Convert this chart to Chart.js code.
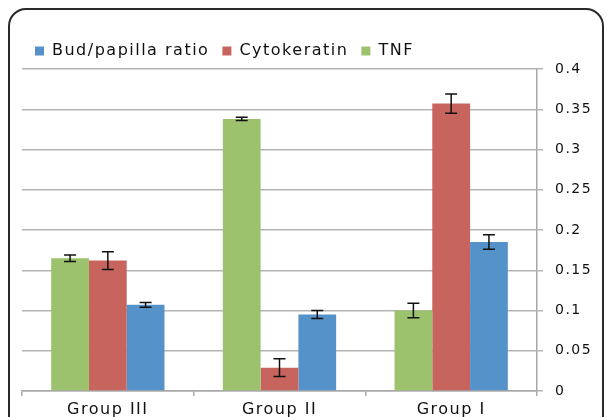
<!DOCTYPE html>
<html lang="en">
<head>
    <meta charset="UTF-8">
    <title>Group chart</title>
    <style>
        body {
            margin: 0;
            background: white;
            overflow: hidden;
        }

        .frame {
            position: absolute;
            left: 8px;
            top: 8px;
            width: 592px;
            height: 430px;
            border: 2px solid #2a2a2a;
            border-radius: 18px;
        }

        #wrap {
            position: absolute;
            left: 0;
            top: 0;
            width: 607px;
            height: 417px;
        }
    </style>
</head>
<body>
    <div class="frame"></div>
    <div id="wrap"><canvas id="chart" width="607" height="417"></canvas></div>

<script src="https://cdn.jsdelivr.net/npm/chart.js@4.4.1/dist/chart.umd.min.js"></script>
<script>
    var groups = ['Group III', 'Group II', 'Group I'];
    var yTicks = [0, 0.05, 0.1, 0.15, 0.2, 0.25, 0.3, 0.35, 0.4];

    var tnf = [0.165, 0.338, 0.100];
    var tnfErr = [0.004, 0.002, 0.009];
    var cytokeratin = [0.162, 0.029, 0.357];
    var cytokeratinErr = [0.011, 0.011, 0.012];
    var budRatio = [0.107, 0.095, 0.185];
    var budRatioErr = [0.003, 0.005, 0.009];

    // the original text is drawn a bit wider than normal
    var wideText = {
        id: 'wideText',
        beforeUpdate: function(chart) { chart.ctx.letterSpacing = '1.5px'; },
        beforeDraw: function(chart) { chart.ctx.letterSpacing = '1.5px'; }
    };

    var errorBars = {
        id: 'errorBars',
        afterDatasetsDraw: function(chart) {
            var ctx = chart.ctx;
            var y = chart.scales.y;
            ctx.save();
            ctx.strokeStyle = '#111';
            ctx.lineWidth = 1.5;
            chart.data.datasets.forEach(function(ds, i) {
                var meta = chart.getDatasetMeta(i);
                meta.data.forEach(function(bar, j) {
                    var v = ds.data[j], e = ds.errors[j];
                    var top = y.getPixelForValue(v + e);
                    var bot = y.getPixelForValue(v - e);
                    ctx.beginPath();
                    ctx.moveTo(bar.x, top);
                    ctx.lineTo(bar.x, bot);
                    ctx.moveTo(bar.x - 6, top);
                    ctx.lineTo(bar.x + 6, top);
                    ctx.moveTo(bar.x - 6, bot);
                    ctx.lineTo(bar.x + 6, bot);
                    ctx.stroke();
                });
            });
            ctx.restore();
        }
    };

    new Chart(document.getElementById('chart'), {
        type: 'bar',
        data: {
            labels: groups,
            datasets: [{
                label: 'TNF',
                data: tnf,
                errors: tnfErr,
                backgroundColor: '#9DC26E'
            }, {
                label: 'Cytokeratin',
                data: cytokeratin,
                errors: cytokeratinErr,
                backgroundColor: '#C8645E'
            }, {
                label: 'Bud/papilla ratio',
                data: budRatio,
                errors: budRatioErr,
                backgroundColor: '#5592C9'
            }]
        },
        options: {
            responsive: false,
            animation: false,
            layout: {
                padding: { left: 22, top: 30, right: 0, bottom: 0 }
            },
            datasets: {
                bar: { categoryPercentage: 0.66, barPercentage: 1.0 }
            },
            plugins: {
                tooltip: { enabled: false },
                legend: {
                    position: 'top',
                    align: 'start',
                    reverse: true,
                    labels: {
                        boxWidth: 9,
                        boxHeight: 9,
                        padding: 13,
                        color: '#111',
                        font: { family: 'DejaVu Sans', size: 16 }
                    }
                }
            },
            scales: {
                x: {
                    grid: {
                        drawOnChartArea: false,
                        drawTicks: true,
                        tickLength: 5,
                        color: '#a8a8a8',
                        lineWidth: 1.5
                    },
                    border: { display: true, color: '#a8a8a8', width: 1.5 },
                    ticks: {
                        color: '#111',
                        padding: 4,
                        font: { family: 'DejaVu Sans', size: 16 }
                    },
                    afterFit: function(scale) { scale.height = 26; }
                },
                y: {
                    position: 'right',
                    min: 0,
                    max: 0.4,
                    afterBuildTicks: function(scale) {
                        scale.ticks = yTicks.map(function(v) { return { value: v }; });
                    },
                    grid: {
                        color: '#b4b4b4',
                        lineWidth: 1.5,
                        tickLength: 6
                    },
                    border: { display: true, color: '#a8a8a8', width: 1.5 },
                    ticks: {
                        color: '#111',
                        padding: 12,
                        font: { family: 'DejaVu Sans', size: 14 },
                        callback: function(v) { return String(+v.toFixed(2)); }
                    },
                    afterFit: function(scale) { scale.width = 70; }
                }
            }
        },
        plugins: [wideText, errorBars]
    });
</script>
</body>
</html>
